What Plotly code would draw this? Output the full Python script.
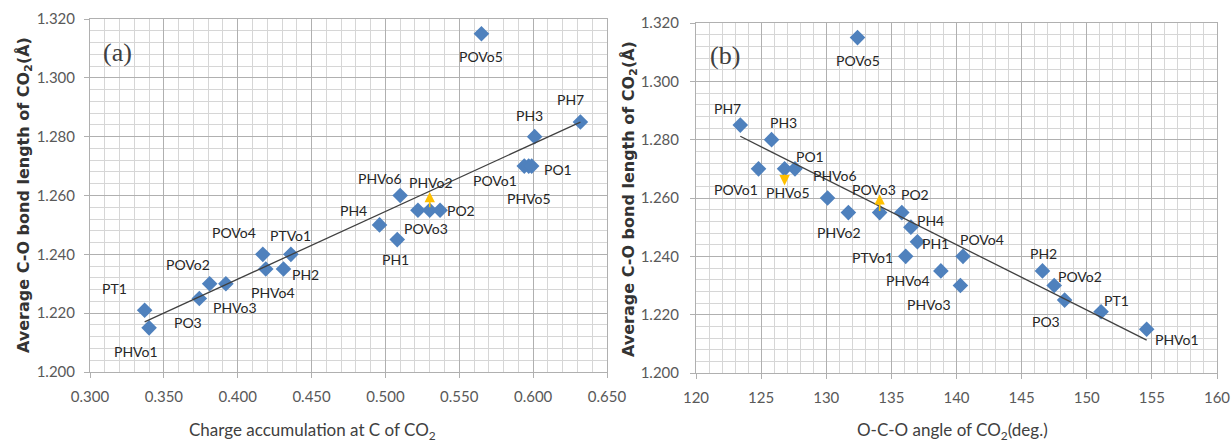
import numpy as np
import plotly.graph_objects as go

# ---------------- data ----------------
names = ["PT1", "PHVo1", "PO3", "POVo2", "PHVo3", "POVo4", "PHVo4", "PTVo1", "PH2",
         "POVo5", "PH7", "PH3", "POVo1", "PHVo5", "PO1", "PHVo6", "PHVo2", "POVo3",
         "PO2", "PH4", "PH1"]
bond_length = [1.221, 1.215, 1.225, 1.230, 1.230, 1.240, 1.235, 1.240, 1.235,
               1.315, 1.285, 1.280, 1.270, 1.270, 1.270, 1.260, 1.255, 1.255,
               1.255, 1.250, 1.245]
charge_c = [0.337, 0.340, 0.374, 0.381, 0.392, 0.417, 0.419, 0.436, 0.431,
            0.565, 0.632, 0.601, 0.594, 0.597, 0.599, 0.510, 0.522, 0.530,
            0.537, 0.496, 0.508]
oco_angle = [151.1, 154.6, 148.3, 147.5, 140.3, 140.5, 138.8, 136.1, 146.6,
             132.4, 123.4, 125.8, 124.8, 126.8, 127.6, 130.1, 131.7, 134.1,
             135.8, 136.5, 137.0]

x_ticks_a = [0.300, 0.350, 0.400, 0.450, 0.500, 0.550, 0.600, 0.650]
x_ticks_b = [120, 125, 130, 135, 140, 145, 150, 155, 160]
y_ticks = [1.200, 1.220, 1.240, 1.260, 1.280, 1.300, 1.320]

# small yellow arrows (compound, tail value, tip value)
arrows_a = [("POVo3", 1.2555, 1.2612)]
arrows_b = [("PHVo5", 1.2686, 1.2643), ("POVo3", 1.2550, 1.2613)]

# ---------------- styling ----------------
W, H = 1231, 442
BLUE = "#4f81bd"
GOLD = "#ffc000"
MAJ = "#b0b0b0"
MIN = "#d6d6d6"
TICKC = "#595959"
LBL = "#262626"

# label offsets in pixels (dx right, dy down) from each marker
off_a = {"PT1": (-30, -22), "PHVo1": (-13, 24), "PO3": (-11, 24), "POVo2": (-22, -19),
         "PHVo3": (9, 24), "POVo4": (-29, -22), "PHVo4": (7, 23), "PTVo1": (0, -19),
         "PH2": (22, 5), "POVo5": (0, 23), "PH7": (-10, -22), "PH3": (-5, -21),
         "POVo1": (-29, 14), "PHVo5": (0, 32), "PO1": (26, 3), "PHVo6": (-20, -17),
         "PHVo2": (13, -28), "POVo3": (-4, 18), "PO2": (21, 0), "PH4": (-26, -14),
         "PH1": (-2, 20)}
off_b = {"POVo5": (0, 23), "PH7": (-13, -17), "PH3": (12, -17), "POVo1": (-23, 21),
         "PHVo5": (3, 24), "PO1": (15, -12), "PHVo6": (7, -23), "PHVo2": (-9, 20),
         "POVo3": (-6, -23), "PO2": (13, -18), "PH4": (20, -7), "PH1": (18, 2),
         "PTVo1": (-33, 1), "PHVo4": (-33, 10), "PHVo3": (-31, 19), "POVo4": (19, -17),
         "PH2": (1, -17), "POVo2": (26, -9), "PO3": (-19, 21), "PT1": (15, -11),
         "PHVo1": (30, 10)}

# plot areas in pixels: (left, right, top, bottom)
area_a = (90, 607, 19, 372)
area_b = (696, 1217, 23, 373)


def px(x):
    return x / W


def py(y):
    return 1 - y / H


fig = go.Figure()

for xs, xa, ya in [(charge_c, "x", "y"), (oco_angle, "x2", "y2")]:
    fig.add_trace(go.Scatter(x=xs, y=bond_length, mode="markers", xaxis=xa, yaxis=ya,
                             marker=dict(symbol="diamond", size=12, color=BLUE,
                                         line=dict(width=0)),
                             showlegend=False, hoverinfo="skip"))
    # linear trendline
    k, b = np.polyfit(xs, bond_length, 1)
    xl = np.array([min(xs), max(xs)])
    fig.add_trace(go.Scatter(x=xl, y=k * xl + b, mode="lines", xaxis=xa, yaxis=ya,
                             line=dict(color="#404040", width=1.3),
                             showlegend=False, hoverinfo="skip"))

annotations = []
for xs, offs, xr, yr in [(charge_c, off_a, "x", "y"), (oco_angle, off_b, "x2", "y2")]:
    for n, xv, yv in zip(names, xs, bond_length):
        dx, dy = offs[n]
        annotations.append(dict(x=xv, y=yv, xref=xr, yref=yr, text=n, showarrow=False,
                                xshift=dx, yshift=-dy, xanchor="center", yanchor="middle",
                                font=dict(family="Lato", size=14, color=LBL)))

for arrs, xs, xr, yr in [(arrows_a, charge_c, "x", "y"), (arrows_b, oco_angle, "x2", "y2")]:
    for n, tail, tip in arrs:
        xv = xs[names.index(n)]
        annotations.append(dict(x=xv, y=tip, ax=xv, ay=tail, xref=xr, yref=yr,
                                axref=xr, ayref=yr, text="", showarrow=True,
                                arrowhead=2, arrowsize=1.3, arrowwidth=1.6,
                                arrowcolor=GOLD))


def paper_text(x, y, text, font, angle=0):
    return dict(x=px(x), y=py(y), xref="paper", yref="paper", text=text,
                showarrow=False, xanchor="center", yanchor="middle",
                textangle=angle, font=font)


serif = dict(family="Liberation Serif", size=26, color="#404040")
annotations.append(paper_text(117, 52, "(a)", serif))
annotations.append(paper_text(725, 55, "(b)", serif))

ytitle = "Average C-O bond length of CO<sub>2</sub>(Å)"
yfont = dict(family="DejaVu Sans", size=16, color="#333333", weight="bold")
annotations.append(paper_text(24, 195, ytitle, yfont, -90))
annotations.append(paper_text(630, 199, ytitle, yfont, -90))
xfont = dict(family="Lato", size=17, color="#404040")
annotations.append(paper_text(312, 431, "Charge accumulation at C of CO<sub>2</sub>", xfont))
annotations.append(paper_text(952, 431, "O-C-O angle of CO<sub>2</sub>(deg.)", xfont))

common = dict(showgrid=True, gridcolor=MAJ, gridwidth=1, showline=True, mirror=True,
              linecolor=MAJ, linewidth=1, ticks="outside", ticklen=5, tickcolor=MAJ,
              zeroline=False, automargin=False,
              tickfont=dict(family="Lato", size=15, color=TICKC))

fig.update_layout(
    width=W, height=H, margin=dict(l=0, r=0, t=0, b=0, autoexpand=False),
    paper_bgcolor="white", plot_bgcolor="white",
    xaxis=dict(domain=[px(area_a[0]), px(area_a[1])], range=[0.300, 0.650],
               tickvals=x_ticks_a, tickformat=".3f",
               minor=dict(dtick=0.01, tick0=0.3, showgrid=True, gridcolor=MIN, ticks=""),
               ticklabelstandoff=6, anchor="y", **common),
    yaxis=dict(domain=[py(area_a[3]), py(area_a[2])], range=[1.200, 1.320],
               tickvals=y_ticks, tickformat=".3f",
               minor=dict(dtick=0.004, tick0=1.2, showgrid=True, gridcolor=MIN, ticks=""),
               ticklabelstandoff=6, anchor="x", **common),
    xaxis2=dict(domain=[px(area_b[0]), px(area_b[1])], range=[120, 160],
                tickvals=x_ticks_b,
                minor=dict(dtick=1, tick0=120, showgrid=True, gridcolor=MIN, ticks=""),
                ticklabelstandoff=6, anchor="y2", **common),
    yaxis2=dict(domain=[py(area_b[3]), py(area_b[2])], range=[1.200, 1.320],
                tickvals=y_ticks, tickformat=".3f",
                minor=dict(dtick=0.004, tick0=1.2, showgrid=True, gridcolor=MIN, ticks=""),
                ticklabelstandoff=8, anchor="x2", **common),
    annotations=annotations,
)

fig.write_html("out.html", config={"displayModeBar": False},
               post_script="document.body.style.margin='0';"
                           "document.body.style.overflow='hidden';")
